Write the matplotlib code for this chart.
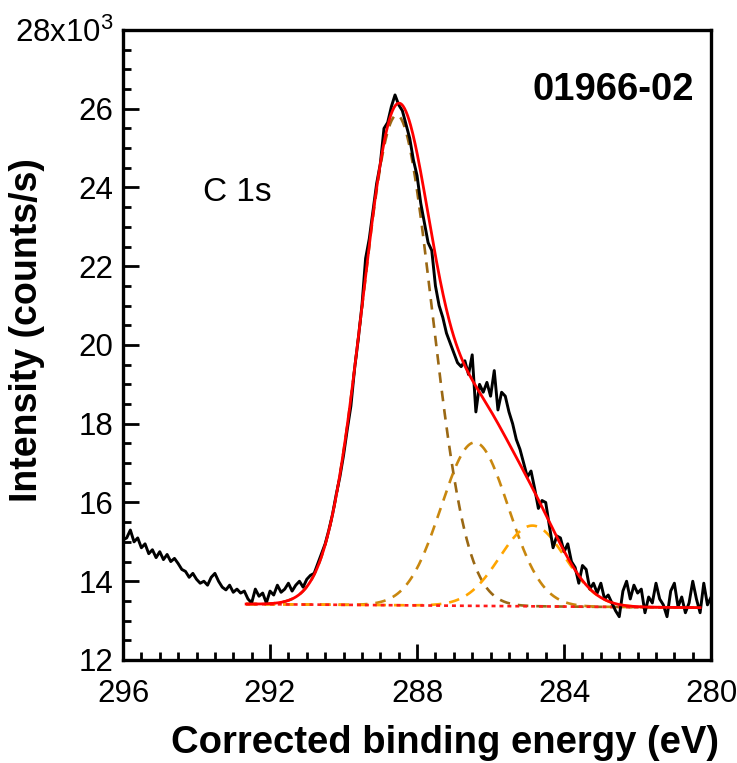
"""C 1s XPS spectrum with three-component peak fit (sample 01966-02)."""
import numpy as np
import matplotlib
matplotlib.use("Agg")
import matplotlib.pyplot as plt
from matplotlib.ticker import MultipleLocator, FixedLocator, FixedFormatter

plt.rcParams["font.family"] = ["Liberation Sans", "DejaVu Sans"]
plt.rcParams["mathtext.fontset"] = "custom"
plt.rcParams["mathtext.rm"] = "Liberation Sans"

# measured spectrum, 296.0 -> 280.0 eV in 0.1 eV steps (counts/s)
counts = [
    15050, 15100, 15300, 15000, 15100, 14850, 14950, 14700, 14800, 14600,
    14750, 14550, 14680, 14500, 14580, 14450, 14300, 14250, 14100, 14200,
    14050, 13950, 14000, 13900, 14100, 14200, 14000, 13850, 13780, 13900,
    13720, 13800, 13700, 13750, 13550, 13450, 13800, 13620, 13700, 13450,
    13750, 13650, 13900, 13720, 13800, 13950, 13750, 13900, 14000, 13850,
    14050, 14150, 14200, 14450, 14700, 14950, 15300, 15700, 16200, 16650,
    17200, 17850, 18450, 19400, 20150, 21000, 22200, 22700, 23400, 24100,
    24600, 25500, 25650, 26050, 26350, 26100, 25950, 25600, 25250, 24700,
    24300, 23600, 23100, 22600, 22400, 21500, 21000, 20700, 20300, 20050,
    19800, 19550, 19450, 19600, 19250, 19750, 18300, 19000, 18800, 19050,
    18700, 19350, 18350, 18800, 18700, 18300, 18000, 17600, 17350, 17000,
    16650, 16800, 16350, 15850, 16050, 16000, 15400, 14850, 15150, 15100,
    14750, 14950, 14500, 14350, 13950, 14400, 14300, 13800, 13950, 13700,
    13950, 13550, 13650, 13450, 13250, 13100, 13750, 14000, 13550, 13900,
    13700, 13800, 13200, 13600, 13450, 13950, 13550, 13400, 13100, 13750,
    13950, 13350, 13600, 13200, 13450, 14000, 13550, 13200, 13950, 13400,
    13600,
]
energy = np.linspace(296.0, 280.0, len(counts))

# fit result: gaussian components above a linear background
fit_range = [292.65, 280.3]
background = [13420, 13330]  # counts/s at the two ends of fit_range
peak_center = [288.55, 286.43, 284.86]
peak_height = [12450, 4150, 2050]
peak_fwhm = [2.24, 2.15, 2.10]
peak_colors = ["#9a6814", "#c8870f", "#ffa500"]

ex = np.linspace(fit_range[0], fit_range[1], 600)
bg = np.interp(ex, fit_range[::-1], background[::-1])
comps = []
for c, h, w in zip(peak_center, peak_height, peak_fwhm):
    s = w / 2.3548
    comps.append(h * np.exp(-0.5 * ((ex - c) / s) ** 2))
envelope = bg + np.sum(comps, axis=0)

fig = plt.figure(figsize=(7.37, 7.63), dpi=100)
ax = fig.add_axes([0.1669, 0.135, 0.798, 0.8257])

ax.plot(energy, counts, color="black", lw=2.1, zorder=3)
for comp, col in zip(comps, peak_colors):
    ax.plot(ex, bg + comp, color=col, lw=1.9, ls=(0, (4, 3)), zorder=2)
ax.plot(ex, bg, color="#ff1a1a", lw=1.9, ls=(0, (1.5, 1.5)), zorder=2)
ax.plot(ex, envelope, color="#ff0000", lw=2.0, zorder=4)

ax.set_xlim(296, 280)
ax.set_ylim(12000, 28000)

ax.xaxis.set_major_locator(MultipleLocator(4))
ax.xaxis.set_minor_locator(MultipleLocator(0.5))
yt = [12000, 14000, 16000, 18000, 20000, 22000, 24000, 26000, 28000]
ax.yaxis.set_major_locator(FixedLocator(yt))
ax.yaxis.set_major_formatter(FixedFormatter(
    ["12", "14", "16", "18", "20", "22", "24", "26", r"28x10$^{3}$"]))
ax.yaxis.set_minor_locator(MultipleLocator(500))

ax.tick_params(which="both", direction="in", top=False, right=False,
               width=2.0, labelsize=22.5)
ax.tick_params(which="major", length=11.5)
ax.tick_params(which="minor", length=5.8)
ax.tick_params(axis="y", which="major", pad=7)
ax.tick_params(axis="x", which="major", pad=14)
for sp in ax.spines.values():
    sp.set_linewidth(2.4)

ax.set_xlabel("Corrected binding energy (eV)", fontsize=27.5,
              fontweight="bold")
ax.xaxis.label.set_va("center")
ax.xaxis.set_label_coords(0.548, -0.132)
ax.set_ylabel("Intensity (counts/s)", fontsize=27, fontweight="bold")
ax.yaxis.set_label_coords(-0.133, 0.524)

ax.text(0.833, 0.905, "01966-02", transform=ax.transAxes, fontsize=27.5,
        fontweight="bold", ha="center", va="center")
ax.text(0.195, 0.742, "C 1s", transform=ax.transAxes, fontsize=24,
        ha="center", va="center")

fig.savefig("out.png", dpi=100)
